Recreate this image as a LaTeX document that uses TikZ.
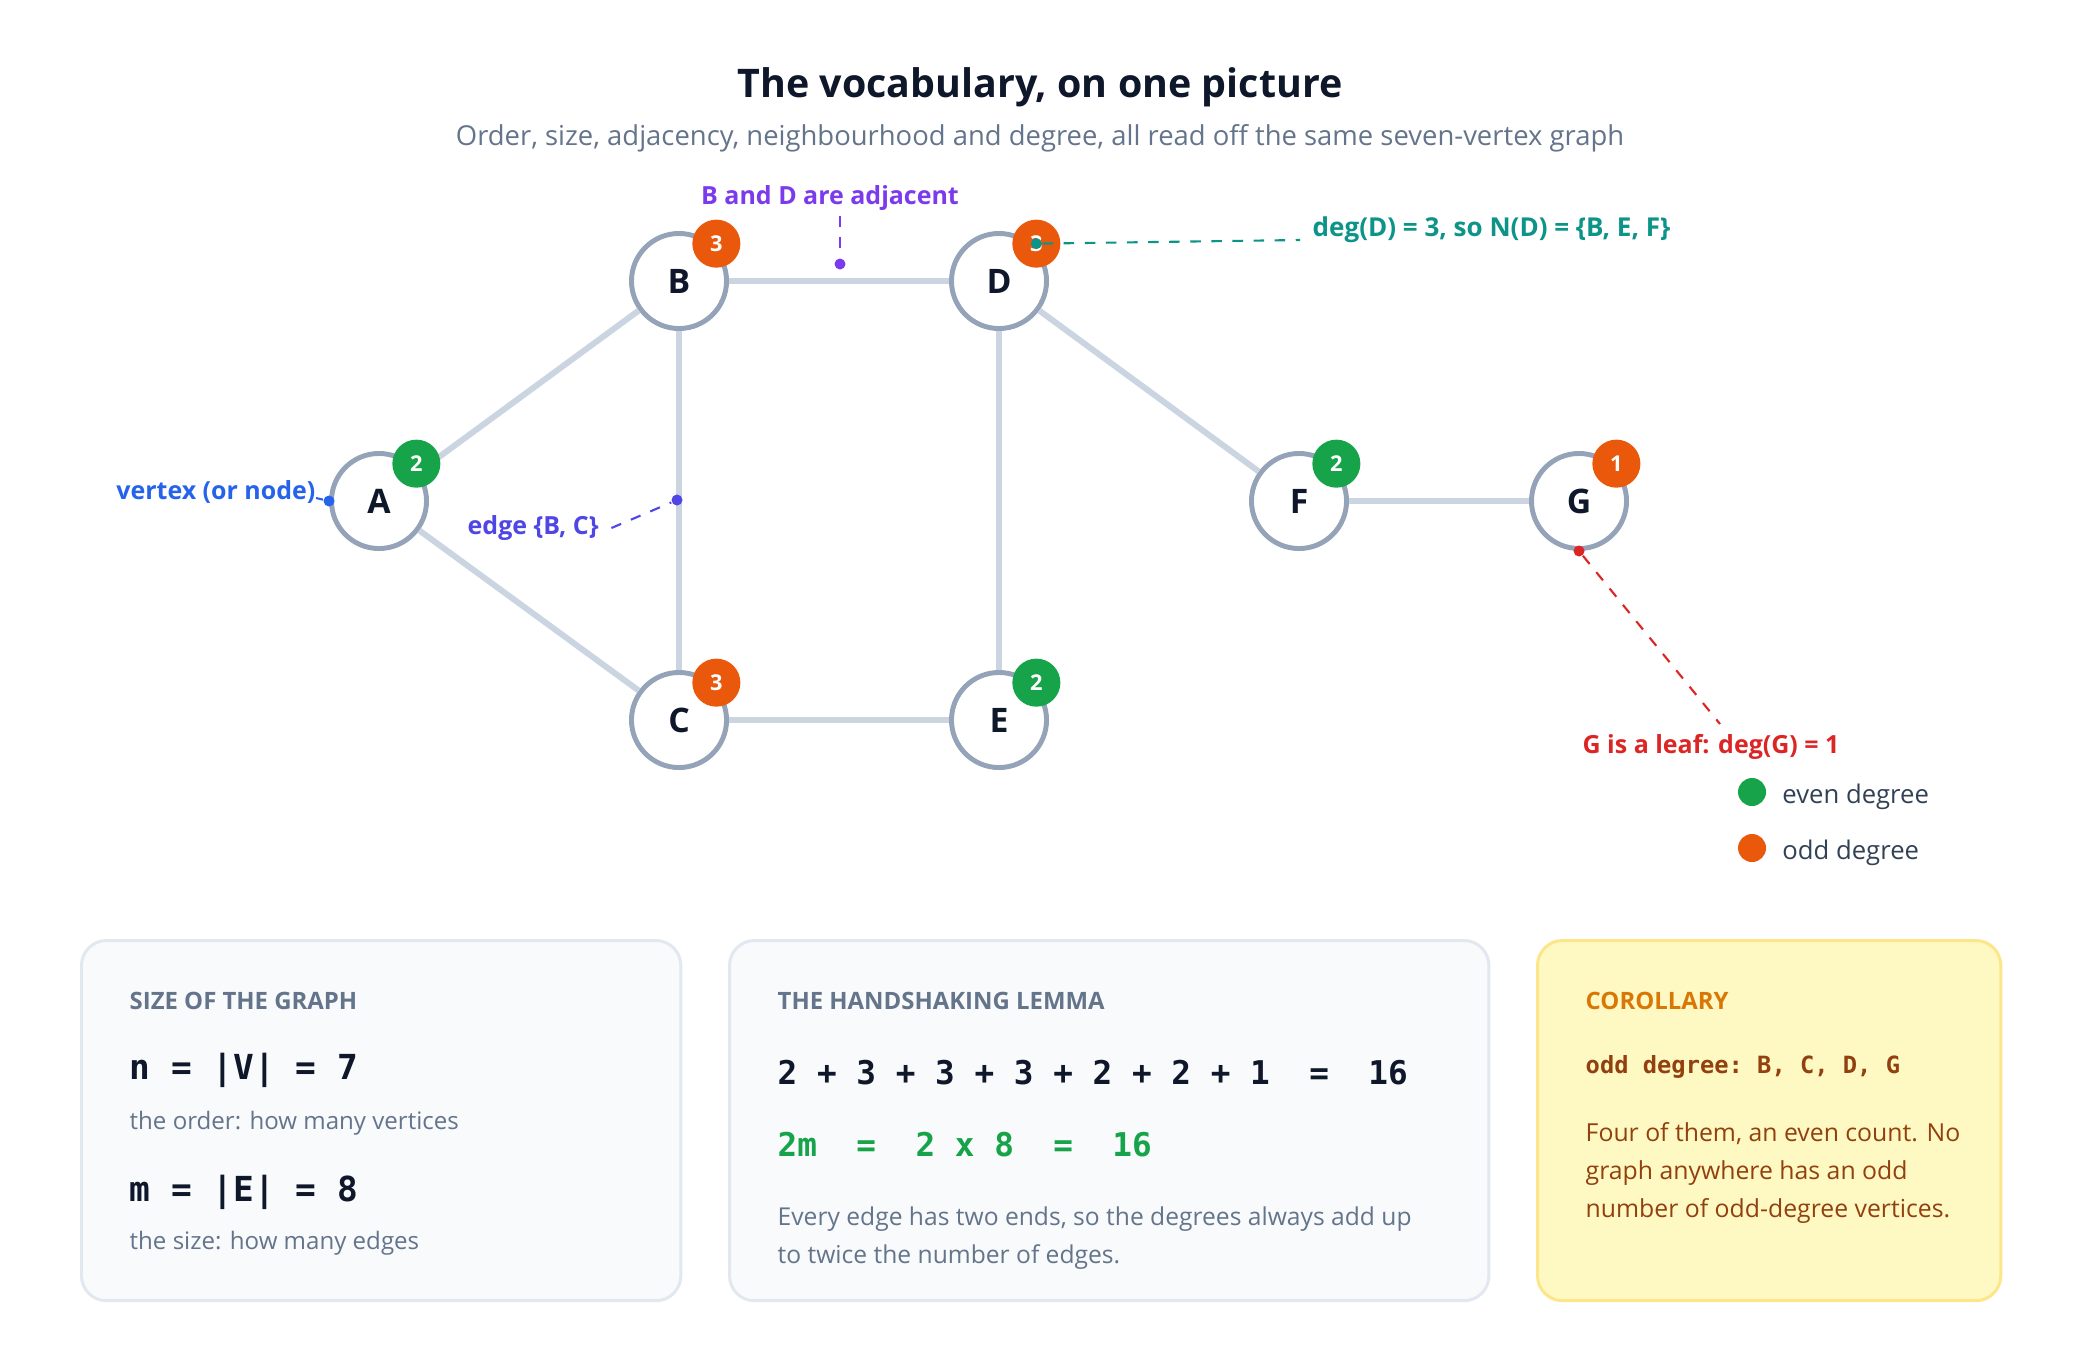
\documentclass[tikz,border=0pt]{standalone}
\usepackage{fontspec}
\setmainfont{Open Sans}
\setmonofont{DejaVu Sans Mono}
\usetikzlibrary{positioning}
\definecolor{inkcol}{HTML}{0F172A}
\definecolor{mutedcol}{HTML}{64748B}
\definecolor{legendcol}{HTML}{334155}
\definecolor{ringcol}{HTML}{94A3B8}
\definecolor{linkcol}{HTML}{CBD5E1}
\definecolor{evencol}{HTML}{16A34A}
\definecolor{oddcol}{HTML}{EA580C}
\definecolor{vtxcol}{HTML}{2563EB}
\definecolor{edgecol}{HTML}{4F46E5}
\definecolor{adjcol}{HTML}{7C3AED}
\definecolor{degcol}{HTML}{0D9488}
\definecolor{leafcol}{HTML}{DC2626}
\definecolor{panelfill}{HTML}{F8FAFC}
\definecolor{panelline}{HTML}{E2E8F0}
\definecolor{notefill}{HTML}{FEF9C3}
\definecolor{noteline}{HTML}{FDE68A}
\definecolor{notehead}{HTML}{D97706}
\definecolor{notetext}{HTML}{92400E}

\begin{document}
\begin{tikzpicture}[x=0.01cm, y=-0.01cm,
  vertex/.style={circle, draw=ringcol, line width=1.4pt, fill=white, minimum size=0.95cm, inner sep=0pt, text=inkcol, font=\bfseries\fontsize{9.6}{11}\selectfont},
  badge/.style={circle, fill=#1, minimum size=0.48cm, inner sep=0pt, text=white, font=\bfseries\fontsize{6.2}{7}\selectfont},
  graphedge/.style={draw=linkcol, line width=1.7pt},
  note/.style={text=#1, inner sep=0pt, font=\bfseries\fontsize{7.1}{8}\selectfont},
  tipdot/.style={circle, fill=#1, minimum size=0.11cm, inner sep=0pt},
  callout/.style={draw=#1, dashed, line width=0.6pt},
  legdot/.style={circle, fill=#1, minimum size=0.28cm, inner sep=0pt},
  legtext/.style={text=legendcol, inner sep=0pt, font=\fontsize{7.3}{9}\selectfont},
  panel/.style={draw=#1, line width=0.85pt, rounded corners=0.25cm, anchor=north west, minimum height=3.6cm},
  boxhead/.style={text=#1, anchor=west, inner sep=0pt, font=\bfseries\fontsize{6.8}{8}\selectfont},
  bigmono/.style={text=#1, anchor=west, inner sep=0pt, font=\ttfamily\bfseries\fontsize{9.8}{11}\selectfont},
  boxtext/.style={text=#1, anchor=west, inner sep=0pt, align=left, font=\fontsize{6.85}{11}\selectfont}
]
\fill[white] (0,0) rectangle (2080,1360);

% title
\node[text=inkcol, font=\bfseries\fontsize{11.2}{13}\selectfont] (title) at (1040,87) {The vocabulary, on one picture};
\node[text=mutedcol, font=\fontsize{7.8}{9}\selectfont] (subtitle) at (1040,138) {Order, size, adjacency, neighbourhood and degree, all read off the same seven-vertex graph};

% the graph
\node[vertex] (A) at (379,501) {A};
\node[vertex] (B) at (679,281) {B};
\node[vertex] (C) at (679,720) {C};
\node[vertex] (D) at (999,281) {D};
\node[vertex] (E) at (999,720) {E};
\node[vertex] (F) at (1299,501) {F};
\node[vertex] (G) at (1579,501) {G};

\draw[graphedge] (A) -- (B);
\draw[graphedge] (A) -- (C);
\draw[graphedge] (B) -- (C);
\draw[graphedge] (B) -- (D);
\draw[graphedge] (C) -- (E);
\draw[graphedge] (D) -- (E);
\draw[graphedge] (D) -- (F);
\draw[graphedge] (F) -- (G);

% degree badges
\node[badge=evencol] (Adeg) at ([shift={(2,-2)}]A.45) {2};
\node[badge=oddcol] (Bdeg) at ([shift={(2,-2)}]B.45) {3};
\node[badge=oddcol] (Cdeg) at ([shift={(2,-2)}]C.45) {3};
\node[badge=oddcol] (Ddeg) at ([shift={(2,-2)}]D.45) {3};
\node[badge=evencol] (Edeg) at ([shift={(2,-2)}]E.45) {2};
\node[badge=evencol] (Fdeg) at ([shift={(2,-2)}]F.45) {2};
\node[badge=oddcol] (Gdeg) at ([shift={(2,-2)}]G.45) {1};

% callouts
\node[note=adjcol] (adjtext) at (830,198) {B and D are adjacent};
\node[tipdot=adjcol] (adjdot) at (840,264) {};
\draw[callout=adjcol] ([yshift=-0.05cm]adjtext.south -| adjdot) -- (adjdot);

\node[note=degcol, anchor=west, font=\bfseries\fontsize{7.4}{8}\selectfont] (degtext) at (1312,230) {deg(D) = 3, so N(D) = \{B, E, F\}};
\node[tipdot=degcol] (degdot) at (Ddeg) {};
\draw[callout=degcol] (degdot) -- ([shift={(-12,10)}]degtext.west);

\node[note=vtxcol, anchor=east] (vtxtext) at (316,492) {vertex (or node)};
\node[tipdot=vtxcol] (vtxdot) at (A.west) {};
\draw[callout=vtxcol] ([yshift=-0.06cm]vtxtext.east) -- (vtxdot);

\node[note=edgecol, anchor=west] (edgetext) at (467,528) {edge \{B, C\}};
\node[tipdot=edgecol] (edgedot) at (677,500) {};
\draw[callout=edgecol] ([xshift=0.12cm]edgetext.east) -- (edgedot);

\node[note=leafcol] (leaftext) at (1711,747) {G is a leaf: deg(G) = 1};
\node[tipdot=leafcol] (leafdot) at (G.south) {};
\coordinate (leafend) at (1720,724);
\draw[callout=leafcol] (leafdot) -- (leafend);

% legend
\node[legdot=evencol] (evenkey) at (1752,792) {};
\node[legtext, right=0.15cm of evenkey, yshift=-0.05cm] (eventext) {even degree};
\node[legdot=oddcol] (oddkey) at (1752,848) {};
\node[legtext, right=0.15cm of oddkey, yshift=-0.05cm] (oddtext) {odd degree};

% size of the graph
\node[panel=panelline, fill=panelfill, minimum width=5.99cm] (sizebox) at (80,939) {};
\node[boxhead=mutedcol] (sizehead) at (129,1001) {SIZE OF THE GRAPH};
\node[bigmono=inkcol] (ordereq) at (129,1070) {n = |V| = 7};
\node[boxtext=mutedcol] (ordertext) at (129,1123) {the order: how many vertices};
\node[bigmono=inkcol] (sizeeq) at (129,1192) {m = |E| = 8};
\node[boxtext=mutedcol] (sizetext) at (129,1243) {the size: how many edges};

% handshaking lemma
\node[panel=panelline, fill=panelfill, minimum width=7.59cm] (lemmabox) at (728,939) {};
\node[boxhead=mutedcol] (lemmahead) at (777,1001) {THE HANDSHAKING LEMMA};
\node[bigmono=inkcol, font=\ttfamily\bfseries\fontsize{9.3}{11}\selectfont] (sumeq) at (777,1073) {2 + 3 + 3 + 3 + 2 + 2 + 1\ \ =\ \ 16};
\node[bigmono=evencol, font=\ttfamily\bfseries\fontsize{9.3}{11}\selectfont] (twomeq) at (777,1145) {2m\ \ =\ \ 2 x 8\ \ =\ \ 16};
\node[boxtext=mutedcol, font=\fontsize{7}{11}\selectfont] (lemmatext) at (777,1238) {Every edge has two ends, so the degrees always add up\\to twice the number of edges.};

% corollary
\node[panel=noteline, fill=notefill, minimum width=4.63cm] (corbox) at (1536,939) {};
\node[boxhead=notehead] (corhead) at (1585,1001) {COROLLARY};
\node[text=notetext, anchor=west, inner sep=0pt, font=\ttfamily\bfseries\fontsize{6.75}{8}\selectfont] (oddlist) at (1585,1067) {odd degree: B, C, D, G};
\node[boxtext=notetext, font=\fontsize{7.05}{10.8}\selectfont] (cortext) at (1585,1173) {Four of them, an even count. No\\graph anywhere has an odd\\number of odd-degree vertices.};
\end{tikzpicture}
\end{document}
